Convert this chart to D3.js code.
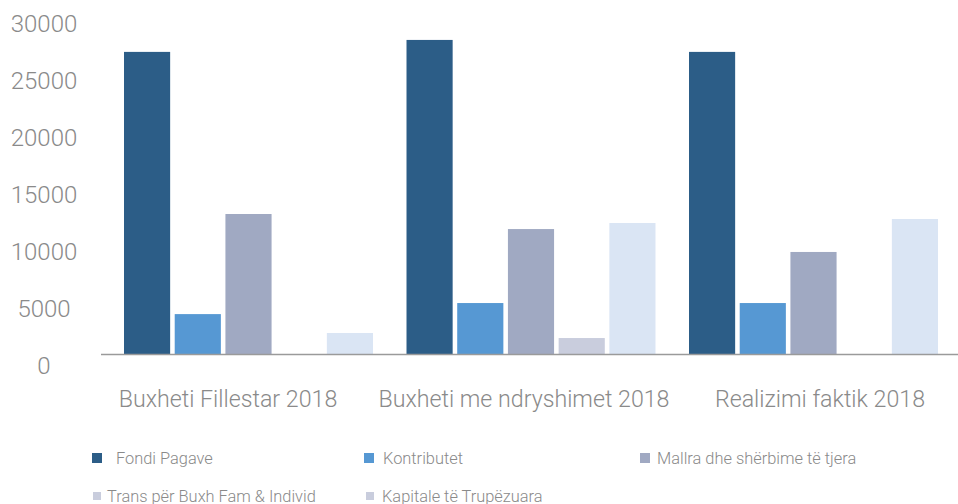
<!DOCTYPE html>
<html><head><meta charset="utf-8">
<script src="https://cdn.jsdelivr.net/npm/d3@7"></script>
<style>
html,body{margin:0;padding:0;background:#fff;}
svg{display:block;}
text{font-family:Roboto,"Helvetica Neue",Arial,sans-serif;font-weight:300;fill:#8a8a8a;}
</style></head>
<body>
<svg id="chart" width="958" height="504"></svg>
<script>
const categories = ["Buxheti Fillestar 2018", "Buxheti me ndryshimet 2018", "Realizimi faktik 2018"];
const seriesNames = ["Fondi Pagave", "Kontributet", "Mallra dhe shërbime të tjera", "Trans për Buxh Fam & Individ", "Kapitale të Trupëzuara"];
const fondiPagave = [26500, 27550, 26500];
const kontributet = [3500, 4470, 4470];
const mallra = [12280, 10960, 8950];
const trans = [0, 1400, 0];
const kapitale = [1840, 11490, 11840];
const yTicks = [0, 5000, 10000, 15000, 20000, 25000, 30000];
const barColors = ["#2c5d87", "#5698d3", "#a0a9c2", "#c9cddd", "#dae5f4"];
const legendColors = ["#2c5d87", "#5698d3", "#a0a9c2", "#c9cddd", "#c9cddd"];

const seriesValues = [fondiPagave, kontributet, mallra, trans, kapitale];
const svg = d3.select("#chart");

const y = d3.scaleLinear().domain([0, 30000]).range([354, 12]);
const x0 = d3.scaleBand().domain(categories).range([107.25, 954.75]).paddingInner(0.1186).paddingOuter(0.0593);
const x1 = d3.scaleBand().domain(seriesNames).range([0, x0.bandwidth()]).paddingInner(0.09).paddingOuter(0);
const labelX = d3.scalePoint().domain(categories).range([228, 820]);

// y tick labels
svg.append("g").selectAll("text").data(yTicks).join("text")
  .attr("x", 44)
  .attr("y", d => y(d) + 12)
  .attr("text-anchor", "middle")
  .attr("dominant-baseline", "central")
  .style("font-size", "24px")
  .text(d => d);

// bars
const groups = svg.append("g").selectAll("g").data(categories).join("g")
  .attr("transform", d => `translate(${x0(d)},0)`);
groups.selectAll("rect")
  .data((c, ci) => seriesNames.map((s, si) => ({s, si, v: seriesValues[si][ci]})))
  .join("rect")
  .attr("x", d => x1(d.s))
  .attr("width", x1.bandwidth())
  .attr("y", d => y(d.v))
  .attr("height", d => y(0) - y(d.v))
  .attr("fill", d => barColors[d.si]);

// baseline
svg.append("line")
  .attr("x1", 101).attr("x2", 958)
  .attr("y1", y(0) + 0.5).attr("y2", y(0) + 0.5)
  .attr("stroke", "#9a9a9a").attr("stroke-width", 1.6);

// category labels
svg.append("g").selectAll("text").data(categories).join("text")
  .attr("x", d => labelX(d))
  .attr("y", 407)
  .attr("text-anchor", "middle")
  .style("font-size", "23.2px")
  .text(d => d);

// legend
const legendPos = [
  {x: 92, y: 458, sq: 10, tx: 116},
  {x: 364, y: 458, sq: 10, tx: 383},
  {x: 640, y: 458, sq: 10, tx: 657},
  {x: 93, y: 496, sq: 8, tx: 107},
  {x: 366, y: 496, sq: 8, tx: 382}
];
const leg = svg.append("g").selectAll("g").data(seriesNames).join("g");
leg.append("rect")
  .attr("x", (d, i) => legendPos[i].x)
  .attr("y", (d, i) => legendPos[i].y - legendPos[i].sq / 2)
  .attr("width", (d, i) => legendPos[i].sq)
  .attr("height", (d, i) => legendPos[i].sq)
  .attr("fill", (d, i) => legendColors[i]);
leg.append("text")
  .attr("x", (d, i) => legendPos[i].tx)
  .attr("y", (d, i) => legendPos[i].y)
  .attr("dominant-baseline", "central")
  .style("font-size", "16.4px")
  .text(d => d);
</script>
</body></html>
